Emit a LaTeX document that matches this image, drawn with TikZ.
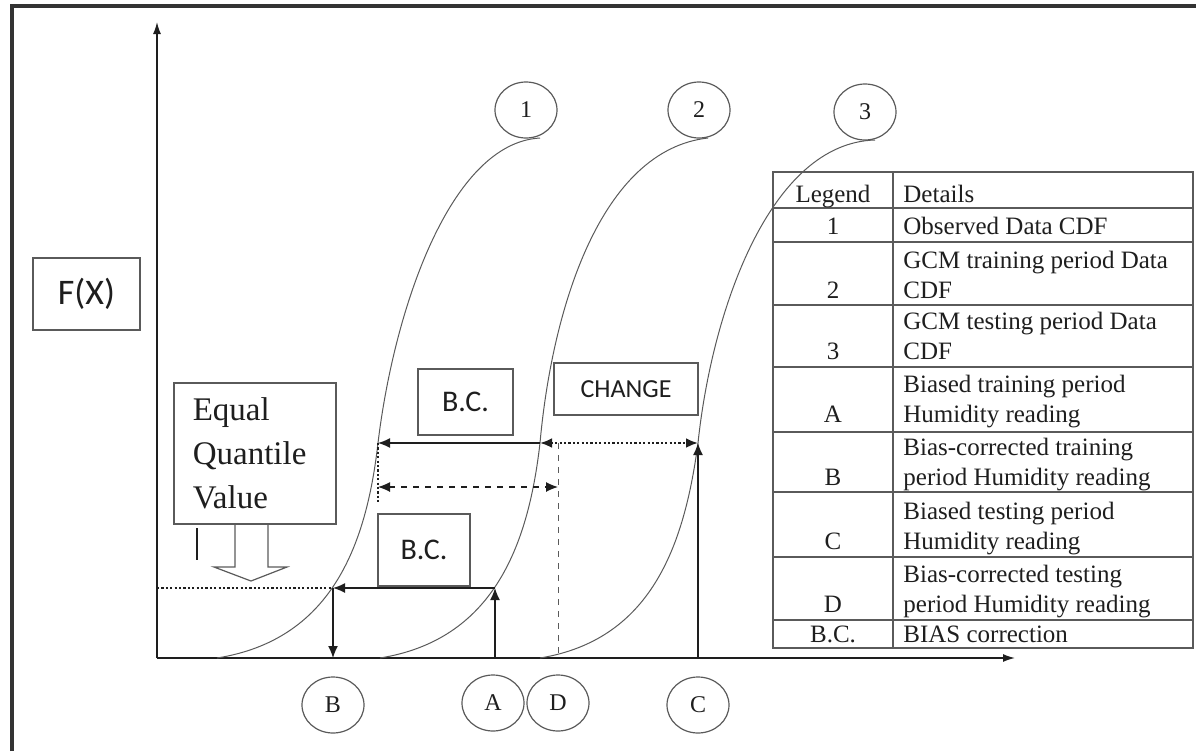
\documentclass[tikz,border=0pt]{standalone}
\usepackage{fontspec}
\setmainfont{Liberation Serif}
\newfontfamily\calfont{Carlito}
\usepackage{tikz}
\usetikzlibrary{positioning, shapes.geometric, arrows.meta}
\definecolor{ink}{HTML}{1E1E1E}
\definecolor{rule}{HTML}{5A5A5A}
\definecolor{frm}{HTML}{333333}

\tikzset{
  cdf/.style={draw=rule, line width=0.5pt},
  axline/.style={draw=ink, line width=0.7pt, -{Latex[length=6pt,width=4pt]}},
  arr/.style={draw=ink, line width=0.7pt, -{Latex[length=6pt,width=5pt]}},
  dots/.style={draw=ink, line width=1.3pt, dash pattern=on 1.1pt off 1.1pt},
  ring/.style={ellipse, draw=rule, line width=0.6pt, inner sep=0pt, minimum width=31pt,
    minimum height=28pt, text=ink, font=\fontsize{12}{14}\selectfont},
  sbox/.style={draw=rule, line width=0.8pt, inner sep=0pt, text=ink},
  key/.style={anchor=base, inner sep=0pt, text=ink, font=\fontsize{12.5}{15}\selectfont},
  det/.style={anchor=base west, align=left, inner sep=0pt, text=ink, font=\fontsize{12.5}{15}\selectfont},
  tline/.style={draw=rule, line width=0.6pt}
}

\begin{document}
\begin{tikzpicture}[x=0.5pt, y=-0.5pt]
  \useasboundingbox (0,0) rectangle (1196,751);
  % frame
  \draw[frm, line width=1.6pt] (12,751) -- (12,6) -- (1196,6);

  % axes
  \coordinate (o) at (157,658);
  \coordinate (ytop) at (157,22);
  \coordinate (xend) at (1015,658);
  \draw[axline] (o) -- (ytop);
  \draw[axline] (o) -- (xend);

  % the three CDF curves
  \draw[cdf] (217,658) .. controls (330,640) and (366,548) .. (378,443)
    .. controls (394,310) and (450,143) .. (540,138);
  \draw[cdf] (380,658) .. controls (492,640) and (528,548) .. (540,443)
    .. controls (552,310) and (600,150) .. (708,138);
  \draw[cdf] (540,658) .. controls (650,640) and (684,548) .. (698,443)
    .. controls (712,310) and (770,143) .. (875,140);

  \node[ring] (n1) at (526,110) {1};
  \node[ring] (n2) at (699,110) {2};
  \node[ring] (n3) at (865,112) {3};
  \node[ring] (lB) at (333,705) {B};
  \node[ring] (lA) at (493,703) {A};
  \node[ring] (lD) at (558,703) {D};
  \node[ring] (lC) at (698,705) {C};

  % boxes
  \node[sbox, minimum width=53.5pt, minimum height=36pt,
    font=\calfont\fontsize{18}{20}\selectfont] (fx) at (86.5,294) {F(X)};
  \node[sbox, anchor=north west, minimum width=81pt, minimum height=70.5pt,
    text width=62pt, inner xsep=9.5pt, align=left,
    font=\fontsize{16.5}{22}\selectfont] (eqv) at (173,382) {Equal\\Quantile\\Value};
  \node[sbox, minimum width=47.5pt, minimum height=33pt,
    font=\calfont\fontsize{15}{17}\selectfont] (bcup) at (465.5,402) {B.C.};
  \node[sbox, minimum width=72pt, minimum height=26pt,
    font=\calfont\fontsize{13}{15}\selectfont] (chg) at (626,389) {CHANGE};
  \node[sbox, minimum width=46pt, minimum height=36pt,
    font=\calfont\fontsize{15}{17}\selectfont] (bclo) at (424,550) {B.C.};

  % hollow arrow and cursor mark
  \draw[rule, line width=0.6pt] (235,523) -- (235,567) -- (214,567) -- (251,581)
    -- (287,567) -- (268,567) -- (268,523);
  \draw[ink, line width=1pt] (197,528) -- (197,560);

  % quantile mapping
  \coordinate (lft) at (157,588);
  \coordinate (pB) at (333,588);
  \coordinate (qB) at (333,658);
  \coordinate (pA) at (495,588);
  \coordinate (qA) at (495,658);
  \coordinate (m1) at (378,443);
  \coordinate (m2) at (540,443);
  \coordinate (pC) at (698,443);
  \coordinate (qC) at (698,658);
  \coordinate (v1) at (378,502);
  \coordinate (dl) at (378,487);
  \coordinate (dr) at (558,487);
  \coordinate (dt) at (558,443);
  \coordinate (qD) at (558,658);

  \draw[dots] (lft) -- (pB);
  \draw[arr] (pA) -- (pB);
  \draw[arr] (pB) -- (qB);
  \draw[arr] (qA) -- (pA);
  \draw[arr] (m2) -- (m1);
  \draw[arr, dots, {Latex[length=6pt,width=5pt]}-{Latex[length=6pt,width=5pt]}] (m2) -- (pC);
  \draw[arr] (qC) -- (pC);
  \draw[dots, line width=1pt] (m1) -- (v1);
  \draw[arr, dashed, line width=0.6pt, {Latex[length=6pt,width=5pt]}-{Latex[length=6pt,width=5pt]}] (dl) -- (dr);
  \draw[rule, dashed, line width=0.4pt] (dt) -- (qD);

  % legend table
  \draw[tline] (773,172) rectangle (1193,648);
  \draw[tline] (893,172) -- (893,648);
  \draw[tline] (773,208) -- (1193,208);
  \draw[tline] (773,242) -- (1193,242);
  \draw[tline] (773,305) -- (1193,305);
  \draw[tline] (773,367) -- (1193,367);
  \draw[tline] (773,432) -- (1193,432);
  \draw[tline] (773,492) -- (1193,492);
  \draw[tline] (773,557) -- (1193,557);
  \draw[tline] (773,620) -- (1193,620);

  \node[key] (kh) at (833,202) {Legend};
  \node[det] (dh) at (903,202) {Details};
  \node[key] (k1) at (833,234) {1};
  \node[det] (d1) at (903,234) {Observed Data CDF};
  \node[key] (k2) at (833,298) {2};
  \node[det] (d2) at (903,298) {GCM training period Data\\CDF};
  \node[key] (k3) at (833,359) {3};
  \node[det] (d3) at (903,359) {GCM testing period Data\\CDF};
  \node[key] (kA) at (833,422) {A};
  \node[det] (dA) at (903,422) {Biased training period\\Humidity reading};
  \node[key] (kB) at (833,485) {B};
  \node[det] (dB) at (903,485) {Bias-corrected training\\period Humidity reading};
  \node[key] (kC) at (833,549) {C};
  \node[det] (dC) at (903,549) {Biased testing period\\Humidity reading};
  \node[key] (kD) at (833,612) {D};
  \node[det] (dD) at (903,612) {Bias-corrected testing\\period Humidity reading};
  \node[key] (kbc) at (833,642) {B.C.};
  \node[det] (dbc) at (903,642) {BIAS correction};
\end{tikzpicture}
\end{document}
